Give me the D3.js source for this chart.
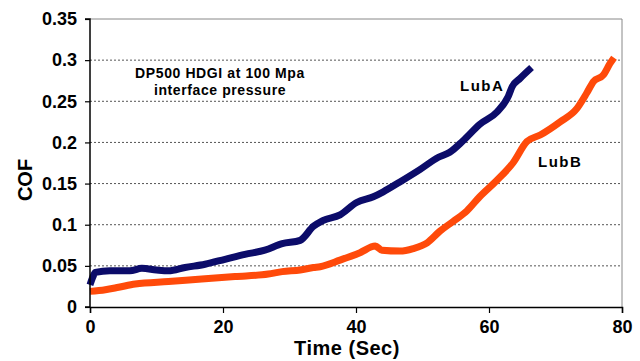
<!DOCTYPE html>
<html>
<head>
<meta charset="utf-8">
<script src="https://cdn.jsdelivr.net/npm/d3@7"></script>
<style>
  body { margin: 0; background: #fff; }
  svg { display: block; font-family: "Liberation Sans", Arial, sans-serif; }
</style>
</head>
<body>
<svg width="640" height="361"></svg>
<script>
const timeA = [0, 0.4, 0.8, 3, 6, 7.8, 10, 11.8, 14.3, 17.3, 20.3, 23.3, 26.3, 28.9, 31.6, 33.6, 35, 37.6, 40.1, 42.6, 44.1, 46.6, 49.6, 52.4, 54.1, 56.1, 58.6, 61.2, 62.9, 63.5, 64.7, 66.4];
const cofA = [0.027, 0.036, 0.042, 0.044, 0.044, 0.047, 0.045, 0.044, 0.048, 0.052, 0.058, 0.064, 0.069, 0.077, 0.081, 0.098, 0.105, 0.112, 0.127, 0.134, 0.14, 0.152, 0.167, 0.182, 0.188, 0.202, 0.222, 0.237, 0.256, 0.268, 0.278, 0.291];
const timeB = [0, 2.3, 4.3, 6.8, 11.8, 16.8, 21.8, 26.8, 28.9, 31.6, 33.6, 34.6, 37.6, 40.6, 42.9, 43.9, 46.6, 48.6, 50.7, 52.6, 54.6, 56.7, 58.6, 61.2, 63.6, 65.7, 67.7, 70.7, 73.2, 74.7, 75.7, 77.2, 78.2, 78.8];
const cofB = [0.019, 0.021, 0.024, 0.028, 0.031, 0.034, 0.037, 0.04, 0.043, 0.045, 0.048, 0.049, 0.057, 0.066, 0.074, 0.069, 0.068, 0.071, 0.078, 0.092, 0.104, 0.117, 0.134, 0.154, 0.175, 0.201, 0.209, 0.225, 0.241, 0.26, 0.274, 0.282, 0.296, 0.303];
const xTicks = [0, 20, 40, 60, 80];
const yTicks = [0, 0.05, 0.1, 0.15, 0.2, 0.25, 0.3, 0.35];
const gridTicks = [0.05, 0.1, 0.15, 0.2, 0.25, 0.3];

const svg = d3.select("svg");
const margin = { top: 19, right: 18, bottom: 54, left: 90 };
const width = +svg.attr("width");
const height = +svg.attr("height");
const innerWidth = width - margin.left - margin.right;
const innerHeight = height - margin.top - margin.bottom;

const xScale = d3.scaleLinear().domain([0, 80]).range([0, innerWidth]);
const yScale = d3.scaleLinear().domain([0, 0.35]).range([innerHeight, 0]);

const g = svg.append("g").attr("transform", `translate(${margin.left},${margin.top})`);

// gridlines
g.selectAll(".grid")
  .data(gridTicks)
  .enter()
  .append("line")
  .attr("x1", 0)
  .attr("x2", innerWidth)
  .attr("y1", (d) => yScale(d))
  .attr("y2", (d) => yScale(d))
  .attr("stroke", "#555")
  .attr("stroke-width", 1)
  .attr("stroke-dasharray", "2,2");

// frame top and right
g.append("line").attr("x1", 0).attr("x2", innerWidth).attr("y1", 0).attr("y2", 0).attr("stroke", "#888");
g.append("line").attr("x1", innerWidth).attr("x2", innerWidth).attr("y1", 0).attr("y2", innerHeight).attr("stroke", "#888");

const seriesA = timeA.map((t, i) => ({ t, c: cofA[i] }));
const seriesB = timeB.map((t, i) => ({ t, c: cofB[i] }));

const line = d3
  .line()
  .x((d) => xScale(d.t))
  .y((d) => yScale(d.c))
  .curve(d3.curveMonotoneX);

g.append("path")
  .datum(seriesB)
  .attr("d", line)
  .attr("fill", "none")
  .attr("stroke", "#ff4a0a")
  .attr("stroke-width", 7)
  .attr("stroke-linejoin", "round");

g.append("path")
  .datum(seriesA)
  .attr("d", line)
  .attr("fill", "none")
  .attr("stroke", "#0c0c6a")
  .attr("stroke-width", 7)
  .attr("stroke-linejoin", "round");

// axes
const yAxis = g.append("g").call(d3.axisLeft(yScale).tickValues(yTicks).tickSize(5).tickPadding(8).tickFormat((d) => String(d)));
const xAxis = g
  .append("g")
  .attr("transform", `translate(0,${innerHeight})`)
  .call(d3.axisBottom(xScale).tickValues(xTicks).tickSize(6).tickPadding(7));

[xAxis, yAxis].forEach((a) => {
  a.attr("font-size", 18).attr("font-weight", "bold").attr("font-family", "Liberation Sans, Arial, sans-serif");
  a.select(".domain").attr("stroke", "#000").attr("stroke-width", 1.5);
  a.selectAll(".tick line").attr("stroke", "#000").attr("stroke-width", 1.2);
  a.selectAll("text").attr("fill", "#000");
});
yAxis.select(".domain").attr("d", `M-5,${innerHeight}H0V0H-5`);

// titles
svg.append("text")
  .attr("x", 347)
  .attr("y", 355)
  .attr("text-anchor", "middle")
  .attr("font-size", 20)
  .attr("font-weight", "bold")
  .attr("letter-spacing", 0.5)
  .text("Time (Sec)");

svg.append("text")
  .attr("transform", "translate(32,180) rotate(-90)")
  .attr("text-anchor", "middle")
  .attr("font-size", 20)
  .attr("font-weight", "bold")
  .text("COF");

// annotations
const note = svg.append("g")
  .attr("font-size", 14)
  .attr("font-weight", "bold")
  .attr("letter-spacing", 0.6)
  .attr("text-anchor", "middle");
note.append("text").attr("x", 220).attr("y", 78).text("DP500 HDGI at 100 Mpa");
note.append("text").attr("x", 220).attr("y", 95).text("interface pressure");

svg.append("text")
  .attr("x", 460)
  .attr("y", 91)
  .attr("font-size", 15)
  .attr("font-weight", "bold")
  .attr("letter-spacing", 1.5)
  .text("LubA");
svg.append("text")
  .attr("x", 538)
  .attr("y", 167)
  .attr("font-size", 15)
  .attr("font-weight", "bold")
  .attr("letter-spacing", 1.5)
  .text("LubB");
</script>
</body>
</html>
